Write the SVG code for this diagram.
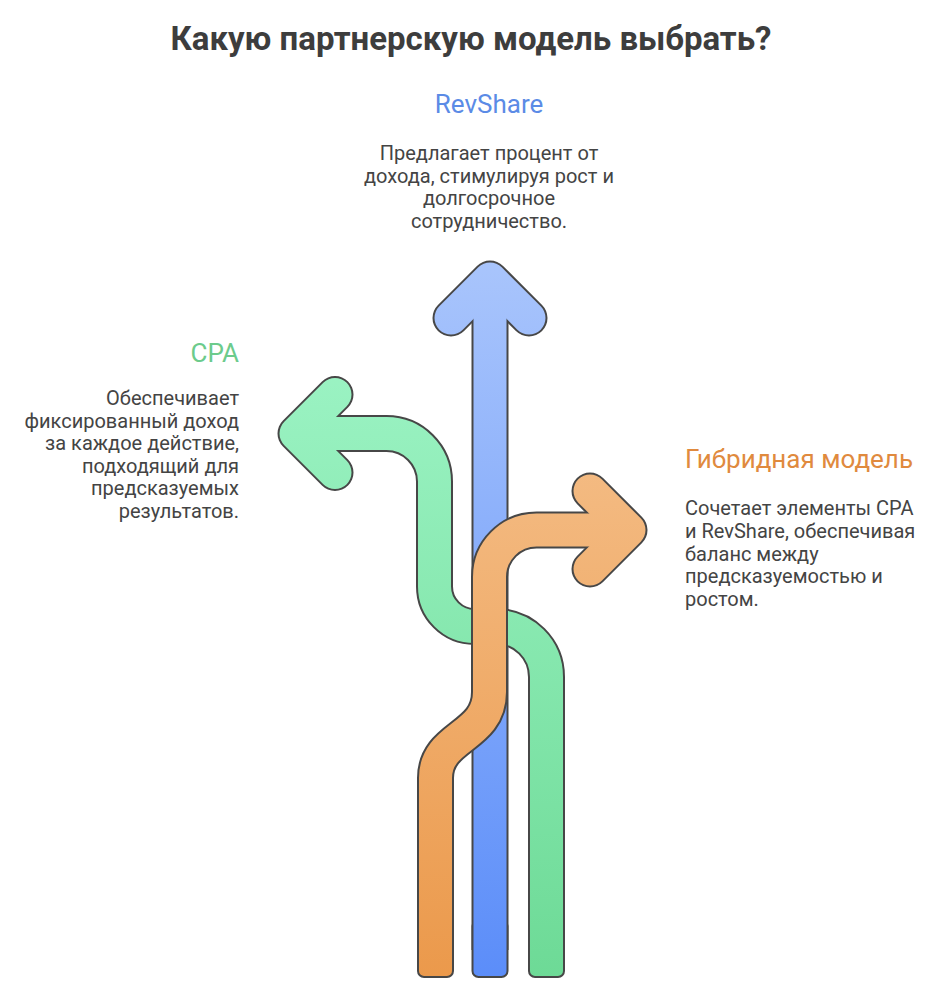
<svg xmlns="http://www.w3.org/2000/svg" width="942" height="1004" viewBox="0 0 942 1004">
<style>
.title{font-family:Roboto,"Liberation Sans",sans-serif;font-weight:bold;font-size:33px;fill:#3d3d3d}
.head{font-family:Roboto,"Liberation Sans",sans-serif;font-size:26px}
.desc{font-family:Roboto,"Liberation Sans",sans-serif;font-size:20px;fill:#444}
.ol{fill:none;stroke:#474747;stroke-width:37;stroke-linejoin:round}
.fl{fill:none;stroke-width:33;stroke-linejoin:round}
.cap{stroke-linecap:round}
.end{stroke:#474747;stroke-width:2}
</style>
<defs>
<linearGradient id="gb" gradientUnits="userSpaceOnUse" x1="0" y1="260" x2="0" y2="980"><stop offset="0" stop-color="#a9c5fc"/><stop offset="1" stop-color="#5b8df9"/></linearGradient>
<linearGradient id="gg" gradientUnits="userSpaceOnUse" x1="0" y1="260" x2="0" y2="980"><stop offset="0" stop-color="#a3f7cb"/><stop offset="1" stop-color="#6dda96"/></linearGradient>
<linearGradient id="go" gradientUnits="userSpaceOnUse" x1="0" y1="260" x2="0" y2="980"><stop offset="0" stop-color="#f7c898"/><stop offset="1" stop-color="#eb994b"/></linearGradient>
</defs>
<text class="title" x="471" y="50" text-anchor="middle">Какую партнерскую модель выбрать?</text>
<g id="connectors">
<g id="arrow-revshare">
<rect class="end" x="472.5" y="920" width="35" height="57" rx="6" fill="url(#gb)"/>
<path class="ol" d="M490,950 V290"/>
<path class="ol cap" d="M451,318 L490,279 L529,318"/>
<path class="fl" stroke="url(#gb)" d="M490,950 V290"/>
<path class="fl cap" stroke="url(#gb)" d="M451,318 L490,279 L529,318"/>
</g>
<g id="arrow-cpa">
<rect class="end" x="529" y="920" width="35" height="57" rx="6" fill="url(#gg)"/>
<path class="ol" d="M546.5,950 V677 A50.5,50.5 0 0 0 496,626.5 H474.5 A40,40 0 0 1 434.5,586.5 V481.5 A48,48 0 0 0 386.5,433.5 H302"/>
<path class="ol cap" d="M335,394.5 L296,433.5 L335,472.5"/>
<path class="fl" stroke="url(#gg)" d="M546.5,950 V677 A50.5,50.5 0 0 0 496,626.5 H474.5 A40,40 0 0 1 434.5,586.5 V481.5 A48,48 0 0 0 386.5,433.5 H302"/>
<path class="fl cap" stroke="url(#gg)" d="M335,394.5 L296,433.5 L335,472.5"/>
</g>
<g id="arrow-hybrid">
<rect class="end" x="418" y="920" width="35" height="57" rx="6" fill="url(#go)"/>
<path class="ol" d="M435.5,950 V778 C435.5,735 489.5,738 489.5,692 V577 A47,47 0 0 1 536.5,530 H623"/>
<path class="ol cap" d="M590,491 L629,530 L590,569"/>
<path class="fl" stroke="url(#go)" d="M435.5,950 V778 C435.5,735 489.5,738 489.5,692 V577 A47,47 0 0 1 536.5,530 H623"/>
<path class="fl cap" stroke="url(#go)" d="M590,491 L629,530 L590,569"/>
</g>
</g>
<g id="node-revshare">
<text class="head" x="489" y="113" text-anchor="middle" fill="#5b8be6">RevShare</text>
<text class="desc" text-anchor="middle"><tspan x="489" y="160">Предлагает процент от</tspan><tspan x="489" y="182.5">дохода, стимулируя рост и</tspan><tspan x="489" y="205">долгосрочное</tspan><tspan x="489" y="227.5">сотрудничество.</tspan></text>
</g>
<g id="node-cpa">
<text class="head" x="239" y="362" text-anchor="end" fill="#6ccb8c">CPA</text>
<text class="desc" text-anchor="end"><tspan x="239" y="405">Обеспечивает</tspan><tspan x="239" y="427.5">фиксированный доход</tspan><tspan x="239" y="450">за каждое действие,</tspan><tspan x="239" y="472.5">подходящий для</tspan><tspan x="239" y="495">предсказуемых</tspan><tspan x="239" y="517.5">результатов.</tspan></text>
</g>
<g id="node-hybrid">
<text class="head" x="685" y="468" fill="#e08a3e">Гибридная модель</text>
<text class="desc"><tspan x="685" y="515">Сочетает элементы CPA</tspan><tspan x="685" y="537.75">и RevShare, обеспечивая</tspan><tspan x="685" y="560.5">баланс между</tspan><tspan x="685" y="583.25">предсказуемостью и</tspan><tspan x="685" y="606">ростом.</tspan></text>
</g>
</svg>
